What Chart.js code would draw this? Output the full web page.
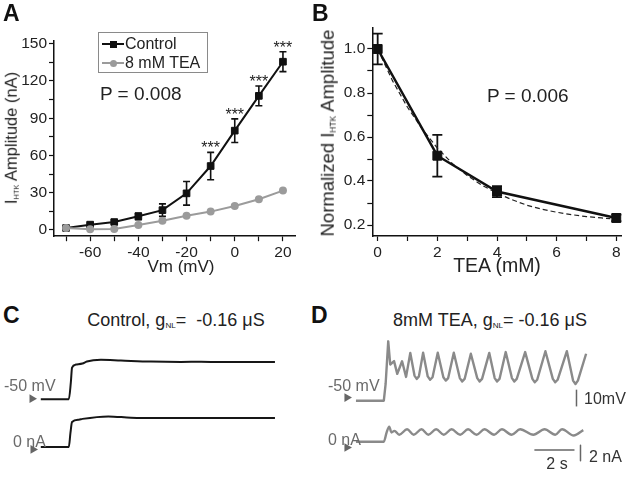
<!DOCTYPE html>
<html><head><meta charset="utf-8">
<script src="https://cdn.jsdelivr.net/npm/chart.js@4.4.1/dist/chart.umd.min.js"></script>
<style>
body{margin:0;background:#fff;width:629px;height:478px;position:relative;overflow:hidden;font-family:'Liberation Sans',Arial,sans-serif;color:#222}
canvas{position:absolute}
.t{position:absolute;white-space:nowrap;line-height:1}
.c{transform:translate(-50%,-50%)}
.l{transform:translateY(-50%)}
.rot{transform:translate(-50%,-50%) rotate(-90deg)}
.pl{font-weight:bold;font-size:23px;color:#111}
.gr{color:#6a6a6a;font-size:16px}
sub{font-size:0.45em;vertical-align:baseline;position:relative;top:0.25em}
.leg{position:absolute;left:98px;top:32px;width:108px;height:39px;border:1px solid #8a8a8a;font-size:16px}
.row{position:absolute;left:0;height:0}
.ln{position:absolute;left:3px;width:22px;height:2px;top:-1px}
.mk{position:absolute;left:11px;width:7px;height:7px;top:-3.5px}
</style></head>
<body>
<canvas id="cA" width="310" height="280" style="left:0;top:0"></canvas>
<canvas id="cB" width="319" height="280" style="left:310px;top:0"></canvas>
<canvas id="cC" width="310" height="148" style="left:0;top:330px"></canvas>
<canvas id="cD" width="319" height="148" style="left:310px;top:330px"></canvas>

<div class="t pl" style="left:3px;top:2px">A</div>
<div class="t pl" style="left:312px;top:2px">B</div>
<div class="t pl" style="left:3px;top:304px">C</div>
<div class="t pl" style="left:311px;top:304px">D</div>

<div class="t rot" style="left:11px;top:138px;font-size:16.5px">I<sub>HTK</sub> Amplitude (nA)</div>
<div class="t c" style="left:181px;top:266px;font-size:17px">Vm (mV)</div>
<div class="t rot" style="left:328px;top:133px;font-size:18.5px">Normalized I<sub>HTK</sub> Amplitude</div>
<div class="t c" style="left:497px;top:266px;font-size:19.5px">TEA (mM)</div>

<div class="t l" style="left:100px;top:92.5px;font-size:19px">P = 0.008</div>
<div class="t l" style="left:487px;top:95px;font-size:19px">P = 0.006</div>

<div class="leg">
  <div class="row" style="top:11px"><div class="ln" style="background:#111"></div><div class="mk" style="background:#111"></div><div class="t l" style="left:26px;top:0">Control</div></div>
  <div class="row" style="top:30px"><div class="ln" style="background:#9b9b9b"></div><div class="mk" style="background:#9b9b9b;border-radius:50%"></div><div class="t l" style="left:26px;top:0">8 mM TEA</div></div>
</div>

<div class="t c" style="left:176px;top:320px;font-size:18px">Control, g<sub>NL</sub>=&nbsp; -0.16 μS</div>
<div class="t c" style="left:490px;top:320px;font-size:18px">8mM TEA, g<sub>NL</sub>= -0.16 μS</div>

<div class="t l gr" style="left:4px;top:386px">-50 mV</div>
<div class="t l gr" style="left:13px;top:441.5px">0 nA</div>
<div class="t l gr" style="left:328px;top:386px">-50 mV</div>
<div class="t l gr" style="left:328px;top:440px">0 nA</div>
<div class="t l" style="left:584px;top:399px;font-size:16px;color:#333">10mV</div>
<div class="t c" style="left:557px;top:464px;font-size:16px;color:#333">2 s</div>
<div class="t l" style="left:589px;top:456.5px;font-size:16px;color:#333">2 nA</div>

<script>
// A: I-V curve, control vs 8 mM TEA
const vm = [-70, -60, -50, -40, -30, -20, -10, 0, 10, 20];
const ctrlAmp = [1.6, 4.3, 6.4, 11, 16, 29.5, 51.5, 80, 108, 135.5];
const ctrlErr = [0.8, 1.2, 1.6, 2.7, 5, 9.5, 11, 9.5, 8, 8];
const teaAmp = [1.6, 0.5, 0.8, 4, 7.5, 11.5, 14.8, 19.3, 24.7, 31.7];
const starVm = [-10, 0, 10, 20];
const aXTicks = [-70, -60, -50, -40, -30, -20, -10, 0, 10, 20];
const aXLabels = [-60, -40, -20, 0, 20];
const aYTicks = [0, 15, 30, 45, 60, 75, 90, 105, 120, 135, 150];
const aYLabels = [0, 30, 60, 90, 120, 150];

// B: dose response
const teaConc = [0, 2, 4, 8];
const normAmp = [1.0, 0.515, 0.352, 0.232];
const normErr = [0.07, 0.095, 0.025, 0.015];
const fitConc = [0, 0.5, 1, 1.5, 2, 2.5, 3, 3.5, 4, 4.5, 5, 5.5, 6, 6.5, 7, 7.5, 7.8];
const fitAmp = [1.0, 0.855, 0.735, 0.635, 0.55, 0.48, 0.425, 0.38, 0.345, 0.315, 0.29, 0.272, 0.258, 0.247, 0.238, 0.232, 0.229];
const bXTicks = [0, 1, 2, 3, 4, 5, 6, 7, 8];
const bXLabels = [0, 2, 4, 6, 8];
const bYTicks = [0.2, 0.3, 0.4, 0.5, 0.6, 0.7, 0.8, 0.9, 1.0];
const bYLabels = ['0.2', '0.4', '0.6', '0.8', '1.0'];

// C: control traces  [time s, value]
const cVolt = [[0,-50],[1.40,-50],[1.50,-40],[1.56,-31.2],[1.75,-29.4],[2.08,-28.8],[2.3,-27.6],[3.0,-26.6],[4,-27.0],[5.5,-27.6],[7,-27.8],[8,-27.7],[9,-27.9],[10,-27.8],[11.69,-27.9]];
const cCurr = [[0,0],[1.40,0],[1.48,1.8],[1.56,3.2],[1.9,3.5],[2.08,3.6],[3.37,3.92],[4.5,3.75],[6,3.7],[8,3.72],[10,3.7],[11.69,3.7]];
const cArrowV = [[-0.44,-49.7]];
const cArrowI = [[-0.39,-0.32]];

// D: 8 mM TEA traces (troughs read with a shoulder either side)
const dVolt = [[0,-50],[1.39,-50],[1.48,-40],[1.61,-14.6],[1.71,-28.4],[1.90,-26.4],[2.06,-34],[2.30,-26.5],[2.50,-35.8],[2.71,-21.5],
    [2.92,-35],[3.03,-37],[3.14,-35.5],[3.35,-21.4],[3.58,-35.5],[3.70,-37.5],[3.82,-36],[4.08,-21.4],[4.36,-36],[4.48,-38],[4.60,-36.5],[4.88,-21.4],
    [5.18,-36.5],[5.30,-38.5],[5.42,-37],[5.73,-22],[6.05,-36.5],[6.17,-38.5],[6.29,-37],[6.65,-21.5],[6.92,-36.5],[7.04,-38.5],[7.16,-37],[7.47,-21],
    [7.78,-36.5],[7.90,-38.5],[8.02,-37],[8.44,-21],[8.80,-37],[8.92,-39],[9.04,-37.5],[9.45,-20.5],[9.82,-37],[9.94,-39],[10.06,-37.5],[10.52,-20.5],
    [10.83,-38],[10.95,-40],[11.07,-38],[11.48,-22]];
const dCurr = [[0,0],[1.39,0],[1.53,1.2],[1.66,1.95],[1.77,1.2],[1.92,1.4],[2.16,0.9],[2.55,1.6],[2.88,0.9],[3.27,1.6],[3.61,0.9],[4.00,1.6],[4.38,0.9],[4.77,1.6],[5.20,0.9],[5.59,1.6],[6.02,0.9],[6.41,1.6],[6.89,0.9],[7.28,1.6],[7.76,0.9],[8.19,1.6],[8.85,0.9],[9.41,1.6],[9.94,0.9],[10.28,1.6],[10.86,0.8],[11.34,1.5]];
const dArrowV = [[-0.45,-48.1]];
const dArrowI = [[-0.45,-0.74]];
const dBarV = [[11.0,-53.4],[11.0,-43.4]];
const dBarT = [[8.9,-1.05],[10.9,-1.05]];
const dBarI = [[11.2,-0.45],[11.2,-2.45]];

Chart.defaults.font.family = "'Liberation Sans', Arial, sans-serif";
Chart.defaults.color = '#222';

const pts = (xs, ys) => xs.map((v, i) => ({x: v, y: ys[i]}));
const pairs = arr => arr.map(p => ({x: p[0], y: p[1]}));

function errorBars(id, xs, ys, errs, cap, width, color) {
    return {
        id: id,
        beforeDatasetsDraw(chart) {
            const {ctx, scales: {x, y}} = chart;
            ctx.save();
            ctx.strokeStyle = color;
            ctx.lineWidth = width;
            xs.forEach((xv, i) => {
                const px = x.getPixelForValue(xv);
                const top = y.getPixelForValue(ys[i] + errs[i]);
                const bot = y.getPixelForValue(ys[i] - errs[i]);
                ctx.beginPath();
                ctx.moveTo(px, top); ctx.lineTo(px, bot);
                ctx.moveTo(px - cap, top); ctx.lineTo(px + cap, top);
                ctx.moveTo(px - cap, bot); ctx.lineTo(px + cap, bot);
                ctx.stroke();
            });
            ctx.restore();
        }
    };
}

const stars = {
    id: 'stars',
    afterDatasetsDraw(chart) {
        const {ctx, scales: {x, y}} = chart;
        ctx.save();
        ctx.font = "16px 'Liberation Sans', Arial, sans-serif";
        ctx.fillStyle = '#222';
        ctx.textAlign = 'center';
        ctx.textBaseline = 'alphabetic';
        starVm.forEach(v => {
            const i = vm.indexOf(v);
            ctx.fillText('***', x.getPixelForValue(v), y.getPixelForValue(ctrlAmp[i] + ctrlErr[i]) + 1);
        });
        ctx.restore();
    }
};

function axis(min, max, ticks, labelFn, size) {
    return {
        type: 'linear', min: min, max: max,
        afterBuildTicks: s => { s.ticks = ticks.map(v => ({value: v})); },
        afterFit: s => { if (s.isHorizontal()) s.height = size; else s.width = size; },
        ticks: {callback: labelFn, font: {size: 15.5}, color: '#222', padding: 2, maxRotation: 0, autoSkip: false},
        grid: {drawOnChartArea: false, tickLength: 5, tickColor: '#111', tickWidth: 1.2},
        border: {color: '#111', width: 1.5}
    };
}

const base = {
    animation: false, responsive: false, events: [],
    plugins: {legend: {display: false}, tooltip: {enabled: false}}
};

new Chart(document.getElementById('cA'), {
    type: 'scatter',
    data: {datasets: [
        {data: pts(vm, teaAmp), showLine: true, borderColor: '#9b9b9b', backgroundColor: '#9b9b9b',
         borderWidth: 2, pointStyle: 'circle', pointRadius: 4, pointBorderWidth: 0, order: 0},
        {data: pts(vm, ctrlAmp), showLine: true, borderColor: '#111', backgroundColor: '#111',
         borderWidth: 2, pointStyle: 'rect', pointRadius: 4.7, pointBorderWidth: 1, order: 1}
    ]},
    options: Object.assign({}, base, {
        layout: {padding: {left: 0, top: 40.6, right: 15, bottom: 0}},
        scales: {
            x: axis(-75, 25, aXTicks, v => aXLabels.includes(v) ? String(v) : '', 43.8),
            y: axis(-5, 152.5, aYTicks, v => aYLabels.includes(v) ? String(v) : '', 54)
        }
    }),
    plugins: [errorBars('errA', vm, ctrlAmp, ctrlErr, 3.5, 1.6, '#111'), stars]
});

new Chart(document.getElementById('cB'), {
    type: 'scatter',
    data: {datasets: [
        {data: pts(teaConc, normAmp), showLine: true, borderColor: '#111', backgroundColor: '#111',
         borderWidth: 2.5, pointStyle: 'rect', pointRadius: 6.3, pointBorderWidth: 1},
        {data: pts(fitConc, fitAmp), showLine: true, borderColor: '#222', borderWidth: 1.2,
         borderDash: [5, 3], pointRadius: 0}
    ]},
    options: Object.assign({}, base, {
        layout: {padding: {left: 0, top: 28.1, right: 2.3, bottom: 0}},
        scales: {
            x: axis(-0.18, 8.18, bXTicks, v => bXLabels.includes(v) ? String(v) : '', 44),
            y: axis(0.15, 1.095, bYTicks, v => bYLabels.includes(v.toFixed(1)) ? v.toFixed(1) : '', 62.3)
        }
    }),
    plugins: [errorBars('errB', teaConc, normAmp, normErr, 5, 1.8, '#111')]
});

function traceChart(id, xr, vr, ir, sets) {
    return new Chart(document.getElementById(id), {
        type: 'scatter',
        data: {datasets: sets},
        options: Object.assign({}, base, {
            layout: {padding: 0},
            scales: {
                x: {type: 'linear', display: false, min: xr[0], max: xr[1]},
                yV: {type: 'linear', display: false, min: vr[0], max: vr[1]},
                yI: {type: 'linear', display: false, min: ir[0], max: ir[1]}
            }
        })
    });
}

const trace = (arr, axisId, color, w, smooth) => ({data: pairs(arr), yAxisID: axisId, showLine: true,
    borderColor: color, borderWidth: w, pointRadius: 0, borderJoinStyle: 'round',
    cubicInterpolationMode: smooth ? 'monotone' : 'default'});
const arrow = (arr, axisId) => ({data: pairs(arr), yAxisID: axisId, showLine: false,
    pointStyle: 'triangle', pointRotation: 90, pointRadius: 5, backgroundColor: '#666', borderColor: '#666', pointBorderWidth: 0});

traceChart('cC', [-1.787, 13.19], [-94, -11.78], [-3.35, 14.37], [
    trace(cVolt, 'yV', '#161616', 2, true),
    trace(cCurr, 'yI', '#161616', 2, true),
    arrow(cArrowV, 'yV'),
    arrow(cArrowI, 'yI')
]);

traceChart('cD', [-2.043, 13.37], [-93.06, -10.83], [-4.01, 13.71], [
    trace(dVolt, 'yV', '#8a8a8a', 2.4, false),
    trace(dCurr, 'yI', '#8a8a8a', 2.4, true),
    arrow(dArrowV, 'yV'),
    arrow(dArrowI, 'yI'),
    trace(dBarV, 'yV', '#666', 1.5, false),
    trace(dBarT, 'yI', '#666', 1.5, false),
    trace(dBarI, 'yI', '#666', 1.5, false)
]);
</script>
</body></html>
